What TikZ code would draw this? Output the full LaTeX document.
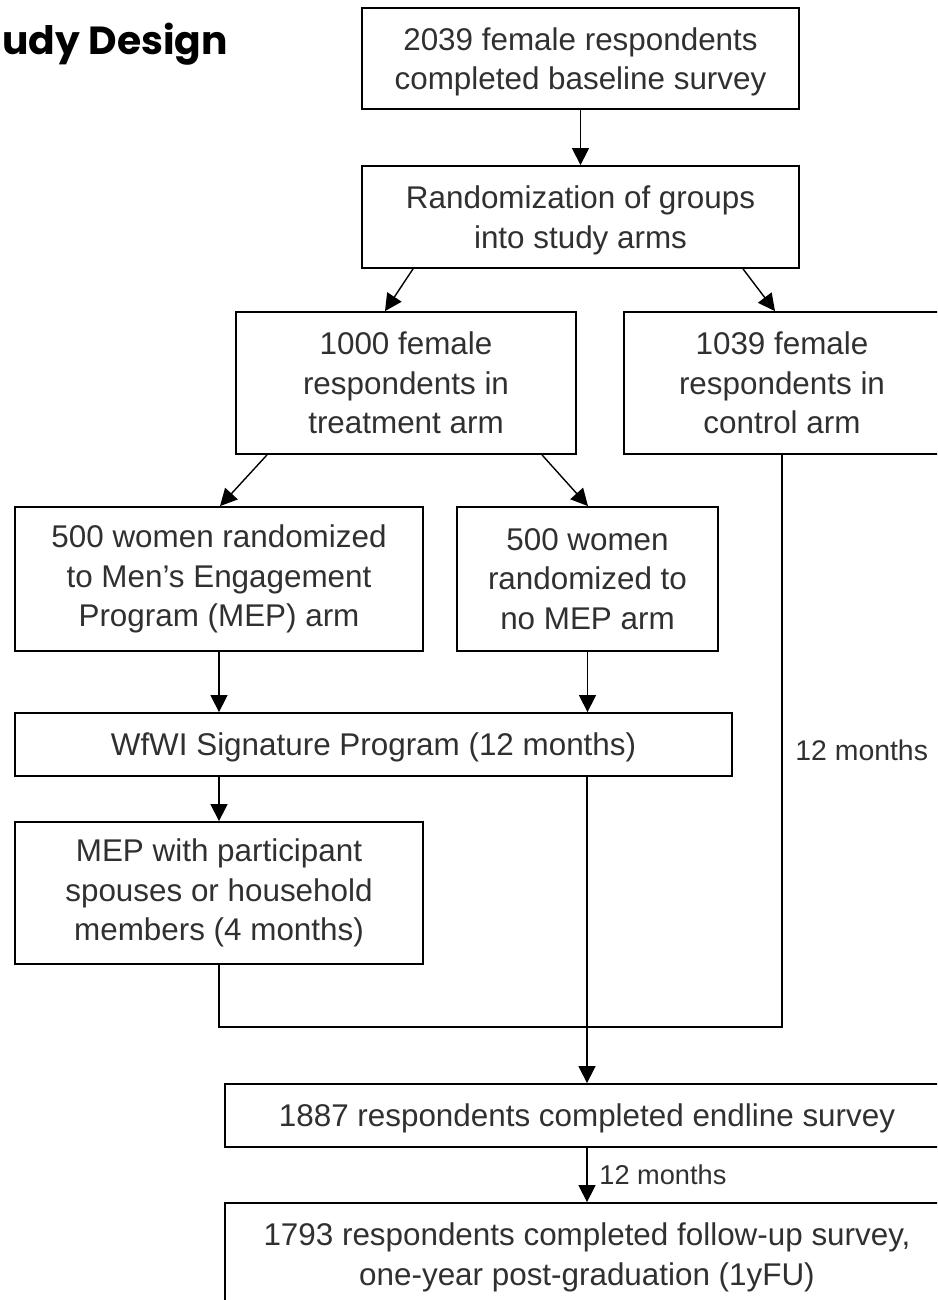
\documentclass[tikz,border=0pt]{standalone}
\usepackage{fontspec}
\setmainfont{Liberation Sans}
\newfontfamily\titlefont{Poppins}
\usetikzlibrary{arrows.meta,calc}
\definecolor{sdtext}{HTML}{303030}

\begin{document}
\begin{tikzpicture}[x=0.5pt, y=-0.5pt,
    box/.style={draw, rectangle, line width=0.9pt, inner sep=0pt, align=center, text=sdtext, font=\fontsize{15.7}{19.8}\selectfont},
    conn/.style={line width=0.7pt, -{Triangle[length=8.5pt,width=8.5pt]}},
    lbl/.style={anchor=west, inner sep=0pt, text=sdtext, font=\fontsize{14.2}{17}\selectfont}]
  \useasboundingbox (0,0) rectangle (937,1300);
  \clip (0,0) rectangle (937,1300);
  \node[anchor=base west, inner sep=0pt, font=\titlefont\bfseries\fontsize{19.6}{24}\selectfont] (title) at (2,55) {udy Design};
  % boxes
  \node[box, text depth=0pt, minimum width=218.5pt, minimum height=50.5pt] (baseline) at (580.5,58.5) {2039 female respondents\\completed baseline survey};
  \node[box, text depth=0pt, minimum width=218.5pt, minimum height=51pt] (random) at (580.5,217) {Randomization of groups\\into study arms};
  \node[box, minimum width=170pt, minimum height=71pt] (treat) at (406,383) {1000 female\\respondents in\\treatment arm};
  \node[box, minimum width=158pt, minimum height=71pt] (control) at (782,383) {1039 female\\respondents in\\control arm};
  \node[box, minimum width=204pt, minimum height=72pt] (mep) at (219,579) {500 women randomized\\to Men’s Engagement\\Program (MEP) arm};
  \node[box, minimum width=130.5pt, minimum height=72pt] (nomep) at (587.5,579) {500 women\\randomized to\\no MEP arm};
  \node[box, text depth=0pt, minimum width=358.5pt, minimum height=31.5pt] (wfwi) at (373.5,744.5) {WfWI Signature Program (12 months)};
  \node[box, minimum width=204pt, minimum height=71pt] (spouse) at (219,893) {MEP with participant\\spouses or household\\members (4 months)};
  \node[box, text depth=0pt, minimum width=362pt, minimum height=31.5pt] (endline) at (587,1115.5) {1887 respondents completed endline survey};
  \node[box, text depth=0pt, minimum width=362pt, minimum height=51pt] (followup) at (587,1254) {1793 respondents completed follow-up survey,\\one-year post-graduation (1yFU)};
  % arrows
  \draw[conn] (baseline) -- (random);
  \draw[conn] ($(random.south)+(-167.5,0)$) -- ($(treat.north)+(-21,0)$);
  \draw[conn] ($(random.south)+(162.5,0)$) -- ($(control.north)+(-7,0)$);
  \draw[conn] ($(treat.south)+(-139,0)$) -- ($(mep.north)+(1,0)$);
  \draw[conn] ($(treat.south)+(136,0)$) -- ($(nomep.north)+(0.5,0)$);
  \draw[conn] (mep) -- (mep |- wfwi.north);
  \draw[conn] (nomep) -- (nomep |- wfwi.north);
  \draw[conn] (mep |- wfwi.south) -- (spouse);
  \draw[conn] (endline |- wfwi.south) -- (endline);
  \coordinate (loopend) at (782,1027);
  \draw[line width=0.7pt] (spouse.south) |- (loopend) -- (control.south);
  \node[lbl] (ctrlmonths) at (795,750) {12 months};
  \draw[conn] (endline) -- (followup);
  \node[lbl, font=\fontsize{13.6}{16}\selectfont] (fumonths) at (599,1175) {12 months};
\end{tikzpicture}
\end{document}
